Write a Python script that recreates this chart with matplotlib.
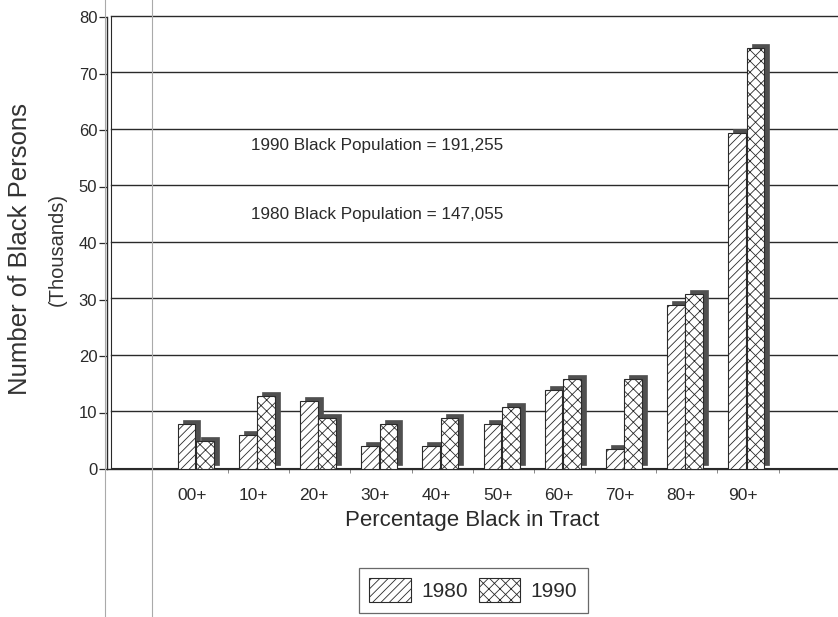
import matplotlib
matplotlib.use('Agg')
import matplotlib.pyplot as plt
import matplotlib.transforms as mtransforms
from matplotlib.lines import Line2D
from matplotlib.patches import Patch
import numpy as np

categories = ['00+', '10+', '20+', '30+', '40+', '50+', '60+', '70+', '80+', '90+']
pop1980 = [8, 6, 12, 4, 4, 8, 14, 3.5, 29, 59.5]
pop1990 = [5, 13, 9, 8, 9, 11, 16, 16, 31, 74.5]
yticks = [0, 10, 20, 30, 40, 50, 60, 70, 80]

plt.rcParams['font.family'] = ['Liberation Sans', 'DejaVu Sans']
plt.rcParams['hatch.linewidth'] = 0.6
plt.rcParams['hatch.color'] = '#2a2a2a'
ink = '#2a2a2a'

fig = plt.figure(figsize=(8.38, 6.17), dpi=100)
ax = fig.add_axes([107/838, 1 - 469/617, 1 - 107/838, (469 - 17)/617])
ax.set_xlim(-1.39, 10.56)
ax.set_ylim(0, 80)

# depth offset for the pseudo 3D look
depth = mtransforms.ScaledTranslation(5/100, 4/100, fig.dpi_scale_trans)
wall = mtransforms.ScaledTranslation(4/100, 1.5/100, fig.dpi_scale_trans)

# back wall gridlines
for v in yticks[1:]:
    ax.plot([-1.39, 10.56], [v, v], color=ink, lw=1.0, transform=ax.transData + wall, clip_on=False)
# floor
ax.plot([-1.39, 10.56], [0, 0], color=ink, lw=1.0, clip_on=False)
ax.plot([-1.39, 10.56], [0, 0], color=ink, lw=0.8, transform=ax.transData + wall, clip_on=False)
ax.plot([-1.39, -1.39], [0, 80], color=ink, lw=0.8, transform=ax.transData + wall, clip_on=False)

x = np.arange(len(categories))
w = 0.29
shift = 0.06
for vals, off, hatch in [(pop1980, -0.15, '////'), (pop1990, 0.15, 'xxx')]:
    ax.bar(x + shift + off, vals, w, color='#505050', edgecolor='#505050', lw=0.5,
           transform=ax.transData + depth, zorder=3)
    ax.bar(x + shift + off, vals, w, color='white', edgecolor=ink, lw=0.8,
           hatch=hatch, zorder=3)

for s in ['top', 'right', 'bottom']:
    ax.spines[s].set_visible(False)
ax.spines['left'].set_color(ink)
ax.spines['left'].set_linewidth(1.0)

ax.set_yticks(yticks)
ax.tick_params(axis='y', direction='out', length=6, width=0.9, color=ink,
               labelsize=12, labelcolor=ink, pad=1)
ax.set_xticks(x)
ax.set_xticklabels(categories)
ax.tick_params(axis='x', length=0, labelsize=12.5, labelcolor=ink, pad=14)
ax.set_xticks(x + 0.59, minor=True)
ax.tick_params(axis='x', which='minor', length=3, width=0.6, color='#777')

ax.set_xlabel('Percentage Black in Tract', fontsize=16, color=ink, labelpad=5)

fig.text(20/838, 1 - 249/617, 'Number of Black Persons', rotation=90,
         ha='center', va='center', fontsize=18.5, color='#333')
fig.text(57/838, 1 - 249/617, '(Thousands)', rotation=90,
         ha='center', va='center', fontsize=14.5, color='#333')

ax.text(0.97, 57.3, '1990 Black Population = 191,255', fontsize=12.3,
        color=ink, va='center', ha='left')
ax.text(0.97, 45.0, '1980 Black Population = 147,055', fontsize=12.3,
        color=ink, va='center', ha='left')

handles = [Patch(facecolor='white', edgecolor=ink, hatch='////', lw=0.8, label='1980'),
           Patch(facecolor='white', edgecolor=ink, hatch='xxx', lw=0.8, label='1990')]
leg = fig.legend(handles=handles, ncol=2, loc='upper left',
                 bbox_to_anchor=(359/838, 1 - 568/617), borderaxespad=0, fontsize=15,
                 frameon=True, fancybox=False, edgecolor='#444',
                 handlelength=2.0, handleheight=1.4, columnspacing=0.5,
                 handletextpad=0.5, borderpad=0.5)
leg.get_frame().set_linewidth(0.9)
for t in leg.get_texts():
    t.set_color(ink)

# faint vertical page lines
for px in [105, 152]:
    fig.add_artist(Line2D([px/838, px/838], [0, 1], color='#aaa', lw=0.8))

fig.savefig('out.png', dpi=100)
